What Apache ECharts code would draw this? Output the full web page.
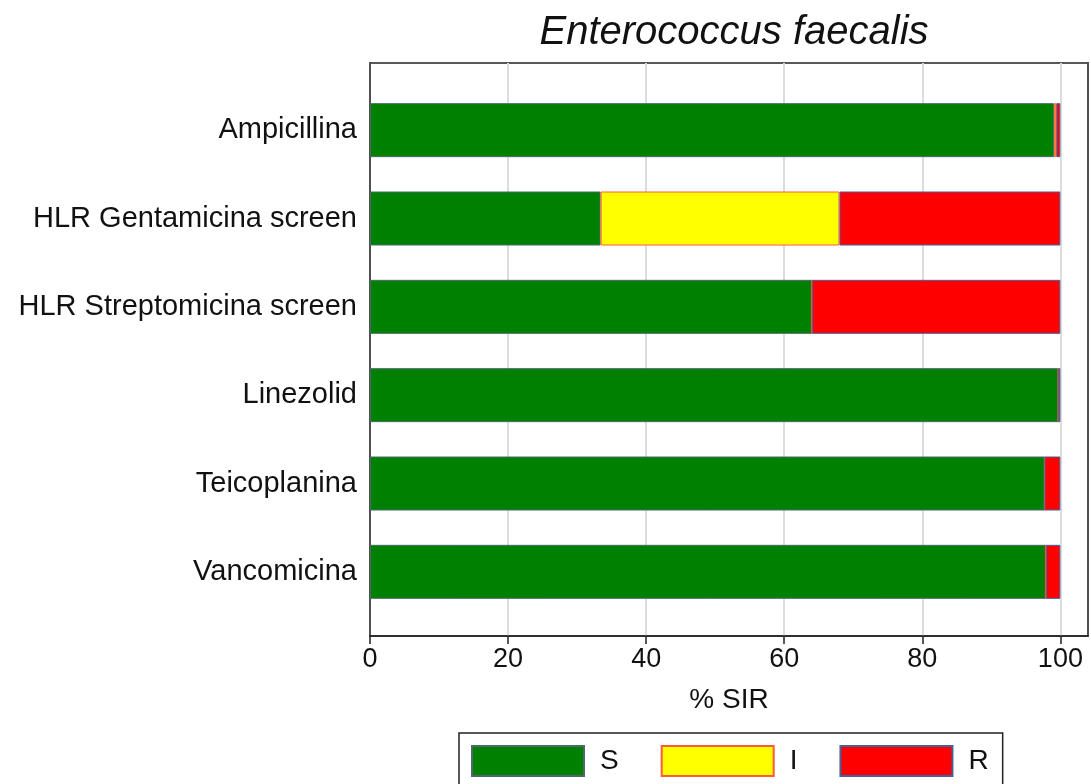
<!DOCTYPE html>
<html>
<head>
<meta charset="utf-8">
<script src="https://cdn.jsdelivr.net/npm/echarts@6/dist/echarts.min.js"></script>
<style>
  html, body { margin: 0; padding: 0; background: #fff; }
  #main { width: 1091px; height: 784px; }
</style>
</head>
<body>
<div id="main"></div>
<script>
// antibiotici (dall'alto verso il basso)
var categories = ['Ampicillina', 'HLR Gentamicina screen', 'HLR Streptomicina screen', 'Linezolid', 'Teicoplanina', 'Vancomicina'];
// % S, I, R
var valS = [99.1, 33.4, 64.0, 99.7, 97.7, 97.9];
var valI = [0.3, 34.6, 0, 0, 0, 0];
var valR = [0.6, 32.0, 36.0, 0.3, 2.3, 2.1];
var xTicks = [0, 20, 40, 60, 80, 100];

window.onload = function () {
    var myChart = echarts.init(document.getElementById('main'));
    var font = 'Liberation Sans, Arial, sans-serif';
    var frameLine = { show: true, lineStyle: { color: '#222', width: 1.5 } };

    var option = {
        animation: false,
        title: {
            text: 'Enterococcus faecalis',
            left: 729,
            top: 8,
            textAlign: 'center',
            textStyle: { fontFamily: font, fontSize: 40, fontWeight: 'normal', fontStyle: 'italic', color: '#111' }
        },
        legend: {
            data: ['S', 'I', 'R'],
            left: 459,
            top: 733,
            padding: [12, 14, 12, 12],
            borderColor: '#222',
            borderWidth: 1.5,
            itemWidth: 112,
            itemHeight: 30,
            itemGap: 42,
            icon: 'rect',
            textStyle: { fontFamily: font, fontSize: 28, color: '#111', padding: [0, 0, 0, 11] }
        },
        grid: [
            // griglia delle barre
            { left: 370, right: 3, top: 86, bottom: 168 },
            // cornice e asse x
            { left: 370, right: 3, top: 63, bottom: 148, show: true, borderColor: '#222', borderWidth: 1.5, backgroundColor: 'transparent' }
        ],
        xAxis: [
            { gridIndex: 0, type: 'value', min: 0, max: 104, show: false },
            {
                gridIndex: 1, type: 'value', min: 0, max: 104, interval: 20,
                name: '% SIR', nameLocation: 'middle', nameGap: 50,
                nameTextStyle: { fontFamily: font, fontSize: 28, color: '#111' },
                axisLine: frameLine,
                axisTick: { show: true, length: 8, lineStyle: { color: '#222', width: 1.5 } },
                axisLabel: { fontFamily: font, fontSize: 27, color: '#111', margin: 10, showMaxLabel: false,
                    formatter: function (v) { return xTicks.indexOf(v) >= 0 ? v : ''; } },
                splitLine: { show: true, lineStyle: { color: '#dcdcdc', width: 2 } }
            }
        ],
        yAxis: [
            {
                gridIndex: 0, type: 'category', data: categories, inverse: true,
                axisLine: { show: false }, axisTick: { show: false },
                axisLabel: { fontFamily: font, fontSize: 29, color: '#111', margin: 13 }
            },
            // bordo sinistro e destro della cornice
            { gridIndex: 1, type: 'value', min: 0, max: 1, position: 'left',
              axisLine: frameLine, axisTick: { show: false }, axisLabel: { show: false }, splitLine: { show: false } },
            { gridIndex: 1, type: 'value', min: 0, max: 1, position: 'right',
              axisLine: frameLine, axisTick: { show: false }, axisLabel: { show: false }, splitLine: { show: false } }
        ],
        series: [
            {
                name: 'S', type: 'bar', stack: 'sir', xAxisIndex: 0, yAxisIndex: 0, barWidth: 54,
                data: valS,
                itemStyle: { color: '#008000', borderColor: '#4a6a6a', borderWidth: 1 }
            },
            {
                name: 'I', type: 'bar', stack: 'sir', xAxisIndex: 0, yAxisIndex: 0, barWidth: 54,
                data: valI,
                itemStyle: { color: '#ffff00', borderColor: '#ff5a3a', borderWidth: 1 }
            },
            {
                name: 'R', type: 'bar', stack: 'sir', xAxisIndex: 0, yAxisIndex: 0, barWidth: 54,
                data: valR,
                itemStyle: { color: '#ff0000', borderColor: '#46609a', borderWidth: 1 }
            }
        ]
    };

    myChart.setOption(option);
};
</script>
</body>
</html>
